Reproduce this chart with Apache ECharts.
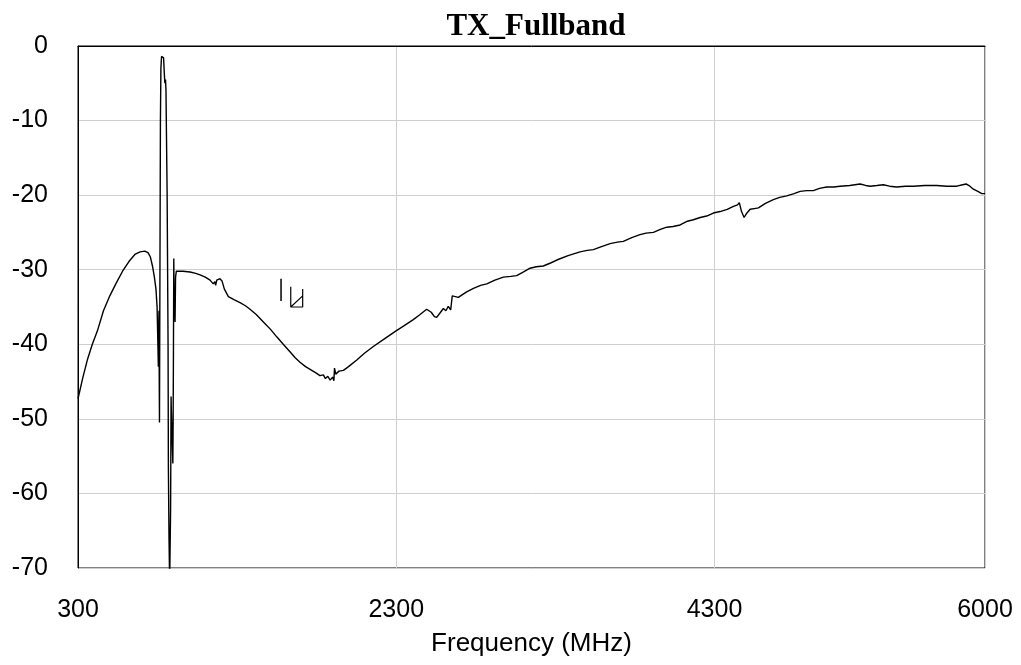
<!DOCTYPE html>
<html>
<head>
	<meta http-equiv="Content-Type" content="text/html; charset=utf-8" />
	<title>TX_Fullband</title>
	<script src="https://cdn.jsdelivr.net/npm/echarts@6/dist/echarts.min.js"></script>
</head>
<body style="padding: 0;margin: 0;background: #fff;">
<div id="main" style="width: 1021px;height: 665px;"></div>

<script type="text/javascript">
	// 频率 (MHz) 与 电平 (dB)
	var freq = [300, 330, 360, 390, 422, 460, 500, 540, 580, 620, 660, 690, 720, 740, 755, 768, 780, 790, 797, 802, 805,
		807, 809, 810, 812, 815, 818, 821, 825, 832, 838, 842, 846, 850, 853, 856, 860, 862, 866, 868, 872,
		876, 880, 882, 884, 885, 886, 893, 896, 898, 900, 902, 904, 907, 910, 913, 918, 930, 960,
		1004, 1040, 1067, 1100, 1130, 1150, 1160, 1165, 1172, 1192, 1205, 1220, 1245, 1280, 1318, 1350, 1381,
		1420, 1465, 1510, 1549, 1590, 1632, 1665, 1695, 1730, 1769, 1800, 1820, 1842, 1855, 1870, 1885, 1900,
		1908, 1912, 1920, 1940, 1968, 2000, 2052, 2100, 2156, 2230, 2299, 2350, 2407, 2450, 2491, 2520, 2540,
		2554, 2575, 2596, 2612, 2627, 2642, 2652, 2690, 2740, 2785, 2830, 2869, 2920, 2973, 3020, 3057, 3100,
		3141, 3180, 3224, 3270, 3309, 3380, 3455, 3500, 3539, 3590, 3644, 3690, 3727, 3780, 3832, 3870, 3916,
		3960, 4000, 4040, 4084, 4130, 4167, 4210, 4251, 4293, 4335, 4380, 4419, 4445, 4456, 4470, 4486, 4500,
		4524, 4550, 4576, 4620, 4670, 4710, 4754, 4800, 4838, 4880, 4921, 4960, 5005, 5050, 5089, 5150, 5215,
		5250, 5278, 5320, 5361, 5400, 5445, 5500, 5550, 5620, 5697, 5760, 5823, 5860, 5881, 5905, 5927, 5955,
		5980, 6000];
	var level = [-47.3, -44.5, -42, -40, -38.2, -35.5, -33.5, -31.8, -30.2, -28.9, -27.9, -27.6, -27.5, -27.7, -28.3, -29.5, -31, -32.6, -35, -40, -43,
		-38, -35.5, -42, -50.5, -30, -10, -3, -1.4, -1.2, -1.6, -3.5, -5, -4.5, -6, -12, -19.5, -19.5, -40, -56.5, -66,
		-72, -72, -62, -52, -47, -48.3, -48.3, -56, -50, -40, -28.5, -34, -32.5, -37, -31, -30.2, -30, -30.2,
		-30.3, -30.5, -30.7, -31, -31.4, -31.9, -31.6, -32.1, -31.4, -31.2, -31.5, -32.6, -33.6, -34, -34.4, -34.8, -35.3,
		-36, -37, -38, -39, -40, -41, -41.8, -42.4, -43, -43.5, -43.9, -44.2, -44.1, -44.6, -44.3, -44.8, -44.4,
		-44.9, -43.2, -44, -43.6, -43.5, -43, -42.1, -41.2, -40.3, -39.2, -38.2, -37.5, -36.7, -36, -35.3, -35.7, -36.3,
		-36.4, -35.8, -35.2, -35.5, -34.9, -35.4, -33.5, -33.7, -33, -32.5, -32.1, -31.9, -31.4, -31, -30.9, -30.8, -30.3,
		-29.8, -29.6, -29.5, -29.1, -28.7, -28.1, -27.6, -27.4, -27.3, -26.9, -26.5, -26.3, -26.2, -25.7, -25.3, -25.1, -25,
		-24.6, -24.3, -24.2, -24, -23.5, -23.3, -23, -22.8, -22.4, -22.2, -21.9, -21.5, -21.3, -21, -22.2, -23, -22.5,
		-21.9, -21.8, -21.7, -21.1, -20.6, -20.3, -20.1, -19.8, -19.5, -19.4, -19.4, -19.1, -18.9, -18.9, -18.8, -18.7, -18.5,
		-18.7, -18.8, -18.7, -18.6, -18.8, -18.9, -18.8, -18.8, -18.7, -18.7, -18.8, -18.8, -18.6, -18.5, -18.8, -19.2, -19.5,
		-19.8, -19.8];

	// 图中的两个小标记
	var markA_x = [1576, 1576];
	var markA_y = [-31.2, -34.2];
	var markB_x = [1637, 1637, 1712, 1712, 1712, 1637];
	var markB_y = [-32.3, -35.0, -35.0, -32.6, -33.5, -35.0];

	var xTicks = [300, 2300, 4300, 6000];

	function zipXY(xs, ys) {
		var out = [];
		for (var i = 0; i < xs.length; i++) {
			out.push([xs[i], ys[i]]);
		}
		return out;
	}

	var myChart = echarts.init(document.getElementById('main'));
	var labelFont = "'Liberation Sans', Arial, sans-serif";
	var option = {
		animation: false,
		backgroundColor: '#fff',
		title: {
			text: 'TX_Fullband',
			left: 531,
			top: 6,
			textAlign: 'center',
			textStyle: {
				fontFamily: "'Liberation Serif', 'Times New Roman', serif",
				fontWeight: 'bold',
				fontSize: 31,
				color: '#000'
			}
		},
		grid: {
			left: 78,
			right: 36,
			top: 46,
			bottom: 97,
			show: true,
			borderColor: '#000',
			borderWidth: 1
		},
		xAxis: {
			type: 'value',
			min: 300,
			max: 6000,
			name: 'Frequency (MHz)',
			nameLocation: 'middle',
			nameGap: 63,
			nameTextStyle: {fontFamily: labelFont, fontSize: 26, color: '#000'},
			axisLine: {lineStyle: {color: '#000'}},
			axisTick: {show: false, customValues: xTicks},
			axisLabel: {
				customValues: xTicks,
				margin: 30,
				fontFamily: labelFont,
				fontSize: 25,
				color: '#000',
				formatter: function (v) { return String(v); }
			},
			splitLine: {show: true, lineStyle: {color: '#cfcfcf', width: 1}}
		},
		yAxis: {
			type: 'value',
			min: -70,
			max: 0,
			interval: 10,
			axisLine: {show: true, lineStyle: {color: '#000'}},
			axisTick: {show: false},
			axisLabel: {margin: 30, fontFamily: labelFont, fontSize: 25, color: '#000'},
			splitLine: {show: true, lineStyle: {color: '#cfcfcf', width: 1}}
		},
		series: [
			{
				type: 'line',
				data: zipXY(freq, level),
				symbol: 'none',
				lineStyle: {color: '#000', width: 1.4},
				clip: true
			},
			{
				type: 'line',
				data: zipXY(markA_x, markA_y),
				symbol: 'none',
				lineStyle: {color: '#000', width: 1.5}
			},
			{
				type: 'line',
				data: zipXY(markB_x, markB_y),
				symbol: 'none',
				lineStyle: {color: '#000', width: 1.2}
			}
		]
	};
	myChart.setOption(option);
</script>
</body>
</html>
